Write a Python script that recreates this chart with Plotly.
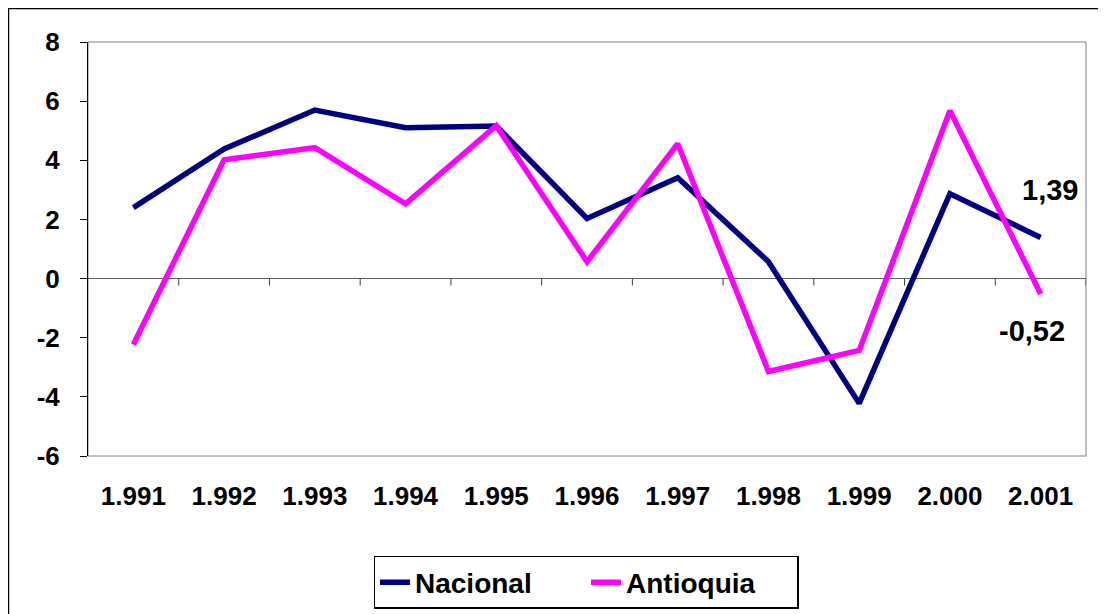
import plotly.graph_objects as go

years = ["1.991", "1.992", "1.993", "1.994", "1.995", "1.996", "1.997", "1.998", "1.999", "2.000", "2.001"]
nacional = [2.4, 4.38, 5.7, 5.1, 5.16, 2.03, 3.41, 0.57, -4.22, 2.87, 1.39]
antioquia = [-2.23, 4.02, 4.43, 2.53, 5.17, 0.57, 4.56, -3.14, -2.43, 5.68, -0.52]
y_ticks = [-6, -4, -2, 0, 2, 4, 6, 8]
y_labels = ["-6", "-4", "-2", "0", "2", "4", "6", "8"]

FONT = "Arial, Liberation Sans, sans-serif"
NAVY = "#000080"
MAGENTA = "#FF00FF"

fig = go.Figure()
fig.add_trace(go.Scatter(x=years, y=nacional, mode="lines", name="Nacional",
                         line=dict(color=NAVY, width=5.5)))
fig.add_trace(go.Scatter(x=years, y=antioquia, mode="lines", name="Antioquia",
                         line=dict(color=MAGENTA, width=5.5)))

# plot-area border (top/right/bottom gray)
fig.add_shape(type="rect", xref="paper", yref="paper", x0=0, x1=1, y0=0, y1=1,
              line=dict(color="#808080", width=1), layer="below")
# outer chart border
fig.add_shape(type="rect", xref="paper", yref="paper", x0=-0.0797, x1=1.0155, y0=-0.40, y1=1.0808,
              line=dict(color="black", width=1.5), layer="below")
# category boundary tick marks on the zero line
for i in range(len(years)):
    fig.add_shape(type="line", xref="x", yref="y", x0=i + 0.5, x1=i + 0.5,
                  ysizemode="pixel", yanchor=0, y0=0, y1=-7,
                  line=dict(color="#404040", width=1))

last = len(years) - 1
fig.add_annotation(x=last, y=nacional[-1], text="1,39", showarrow=False,
                   xshift=9, yshift=47, font=dict(family=FONT, size=29, color="black", weight="bold"))
fig.add_annotation(x=last, y=antioquia[-1], text="-0,52", showarrow=False,
                   xshift=-9, yshift=-37, font=dict(family=FONT, size=29, color="black", weight="bold"))

fig.update_layout(
    width=1098, height=606,
    margin=dict(l=80, r=20, t=34, b=158, autoexpand=False),
    paper_bgcolor="white", plot_bgcolor="white",
    font=dict(family=FONT, size=24, color="black", weight="bold"),
    showlegend=True,
    legend=dict(orientation="h", x=0.499, xanchor="center", y=-0.2415, yanchor="top",
                bordercolor="black", borderwidth=1.5, bgcolor="white",
                font=dict(family=FONT, size=28, color="black", weight="bold"),
                entrywidth=166, entrywidthmode="pixels", tracegroupgap=0),
    xaxis=dict(type="category", range=[-0.5, 10.5], showgrid=False, zeroline=False,
               showline=False, ticks="", ticklabelstandoff=22,
               tickfont=dict(family=FONT, size=26, color="black", weight="bold")),
    yaxis=dict(range=[-6, 8], tickvals=y_ticks, ticktext=y_labels, showgrid=False,
               zeroline=True, zerolinecolor="#606060", zerolinewidth=1,
               showline=True, linecolor="black", linewidth=1,
               ticks="outside", ticklen=7, tickcolor="black", ticklabelstandoff=15,
               tickfont=dict(family=FONT, size=26, color="black", weight="bold")),
)

fig.write_html("out.html")
